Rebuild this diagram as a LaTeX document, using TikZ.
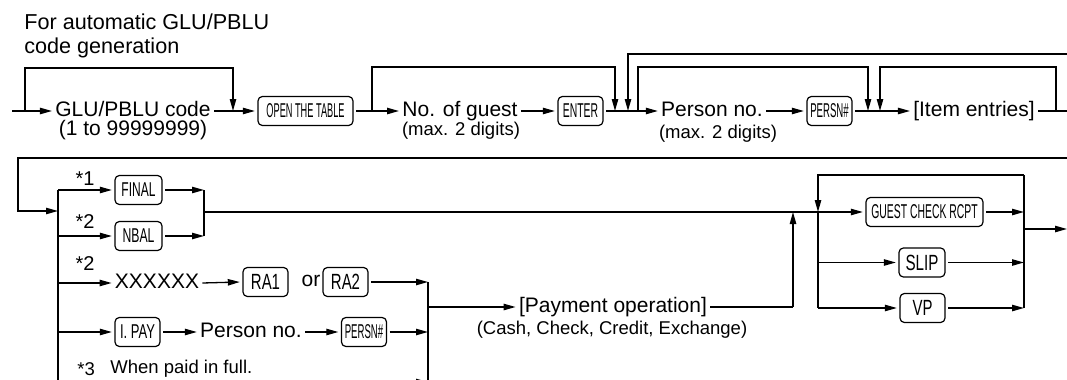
\documentclass[tikz,border=0pt]{standalone}
\usepackage{fontspec}
\setmainfont{Liberation Sans}
\usepackage{graphicx}
\usetikzlibrary{arrows.meta}
\newcommand\kt[2]{\scalebox{#1}[1]{#2}}
\tikzset{
  ln/.style={line width=0.65pt},
  arr/.style={line width=0.65pt, -{Triangle[length=6pt,width=3.2pt]}},
  keybox/.style={draw, line width=0.6pt, rounded corners=2.2pt, minimum height=14.5pt, inner sep=0pt, outer sep=1.6pt, font=\fontsize{10}{10}\selectfont},
  keyb/.style={keybox, font=\fontsize{11}{11}\selectfont},
  txt/.style={inner sep=1.5pt, font=\fontsize{10.5}{12}\selectfont, text height=7.5pt, text depth=2pt},
  head/.style={inner sep=0pt, font=\fontsize{10.8}{12}\selectfont, text height=7.5pt, text depth=2pt},
  sub/.style={inner sep=0pt, font=\fontsize{9.25}{11}\selectfont},
  star/.style={inner sep=0pt, font=\fontsize{10}{11}\selectfont},
}
\begin{document}
\begin{tikzpicture}[x=0.5pt,y=-0.5pt]
\useasboundingbox (0,0) rectangle (1067,380);
\clip (0,0) rectangle (1067,380);

% ---------- top row ----------
\node[head, anchor=west] (h1) at (24,24) {For automatic GLU/PBLU};
\node[head, anchor=west] (h2) at (24,48) {code generation};

\node[txt] (glu) at (133,111) {GLU/PBLU code};
\node[txt, inner sep=0pt] (glusub) at (133,130) {(1 to 99999999)};
\node[keybox, minimum width=47.5pt] (otb) at (305.5,111) {\kt{0.46}{OPEN THE TABLE}};
\node[txt] (guest) at (460,111) {No. of guest};
\node[sub] (guestsub) at (461,131) {(max. 2 digits)};
\node[keybox, minimum width=22.5pt] (enter) at (580.5,111) {\kt{0.52}{ENTER}};
\node[txt] (person) at (712,111) {Person no.};
\node[sub] (personsub) at (718,134) {(max. 2 digits)};
\node[keybox, minimum width=22.5pt] (persn) at (829.5,111) {\kt{0.48}{PERSN\#}};
\node[txt] (items) at (974,111) {[Item entries]};

\coordinate (s0) at (12,111);
\coordinate (j1) at (25,111);
\coordinate (c1) at (233,68);
\coordinate (d1) at (233,111);
\draw[arr] (s0) -- (glu.west);
\draw[arr] (j1) |- (c1) -- (d1);
\draw[arr] (glu.east) -- (otb.west);

\coordinate (j2) at (372,111);
\coordinate (c2) at (615,67);
\coordinate (d2) at (615,111);
\draw[arr] (j2) |- (c2) -- (d2);
\draw[arr] (otb.east) -- (guest.west);
\draw[arr] (guest.east) -- (enter.west);
\draw[arr] (enter.east) -- (person.west);

\coordinate (e3) at (1067,54);
\coordinate (c3) at (628,54);
\coordinate (d3) at (628,111);
\draw[arr] (e3) -- (c3) -- (d3);

\coordinate (j4) at (638,111);
\coordinate (c4) at (868,67);
\coordinate (d4) at (868,111);
\draw[arr] (j4) |- (c4) -- (d4);
\draw[arr] (person.east) -- (persn.west);
\draw[arr] (persn.east) -- (items.west);

\coordinate (e5) at (1067,111);
\draw[ln] (items.east) -- (e5);
\coordinate (j5) at (1056,111);
\coordinate (c5) at (880,67);
\coordinate (d5) at (880,111);
\draw[arr] (j5) |- (c5) -- (d5);

% ---------- second row ----------
\coordinate (e6) at (1067,158);
\coordinate (c6) at (18,158);
\coordinate (c6b) at (18,211);
\coordinate (b1) at (58,211);
\draw[arr] (e6) -- (c6) -- (c6b) -- (b1);

\coordinate (bt) at (58,190);
\coordinate (bb) at (58,390);
\draw[ln] (bt) -- (bb);

\node[keybox, minimum width=23.5pt] (final) at (138.5,190) {\kt{0.6}{FINAL}};
\node[keybox, minimum width=23.5pt] (nbal) at (138.5,236) {\kt{0.61}{NBAL}};
\node[star] (s1) at (85,179) {*1};
\node[star] (s2) at (85,222) {*2};
\node[star] (s3) at (85,264) {*2};

\coordinate (bn) at (58,236);
\draw[arr] (bt) -- (final.west);
\draw[arr] (bn) -- (nbal.west);
\coordinate (mf) at (204,190);
\coordinate (mn) at (204,236);
\draw[arr] (final.east) -- (mf);
\draw[arr] (nbal.east) -- (mn);
\draw[ln] (mf) -- (mn);

\node[keybox, minimum width=58.5pt] (gcr) at (924.5,212) {\kt{0.52}{GUEST CHECK RCPT}};
\coordinate (m0) at (204,212);
\draw[arr] (m0) -- (gcr.west);

% XXXXXX row
\node[txt] (xx) at (157,283) {XXXXXX};
\node[keyb, minimum width=22.5pt] (ra1) at (265.5,282) {\kt{0.68}{RA1}};
\node[txt, inner sep=0pt] (or) at (311,281) {or};
\node[keyb, minimum width=22.5pt] (ra2) at (345.5,282) {\kt{0.68}{RA2}};
\coordinate (bx) at (58,283);
\draw[arr] (bx) -- (xx.west);
\draw[arr] (xx.east) -- (ra1.west);
\coordinate (r1) at (428,282);
\draw[arr] (ra2.east) -- (r1);

% I.PAY row
\node[keybox, minimum width=22.5pt] (ipay) at (137.5,332) {\kt{0.65}{I. PAY}};
\node[txt] (pno) at (251,332) {Person no.};
\node[keybox, minimum width=22.5pt] (persn2) at (364,332) {\kt{0.48}{PERSN\#}};
\coordinate (bi) at (58,332);
\draw[arr] (bi) -- (ipay.west);
\draw[arr] (ipay.east) -- (pno.west);
\draw[arr] (pno.east) -- (persn2.west);
\coordinate (r2) at (428,332);
\draw[arr] (persn2.east) -- (r2);

\node[sub, anchor=west] (n3) at (77,369) {*3};
\node[sub, anchor=west] (n3t) at (110,369) {When paid in full.};
\coordinate (r3s) at (395,382);
\coordinate (r3) at (428,382);
\draw[arr] (r3s) -- (r3);

\coordinate (rb) at (428,390);
\draw[ln] (r1) -- (rb);

% payment
\node[txt] (pay) at (613,307) {[Payment operation]};
\node[sub] (paysub) at (612,330) {(Cash, Check, Credit, Exchange)};
\coordinate (rp) at (428,307);
\draw[arr] (rp) -- (pay.west);
\coordinate (pu) at (793,307);
\coordinate (pt) at (793,212);
\draw[ln] (pay.east) -- (pu);
\draw[arr] (pu) -- (pt);

% receipt group
\node[keyb, minimum width=23pt] (slip) at (922,262.5) {\kt{0.69}{SLIP}};
\node[keyb, minimum width=22.5pt] (vp) at (922.5,308) {\kt{0.68}{VP}};
\coordinate (gr) at (1024,175);
\coordinate (gl) at (818,175);
\coordinate (gd) at (818,212);
\draw[arr] (gr) -- (gl) -- (gd);
\coordinate (gb) at (818,308);
\draw[ln] (gd) -- (gb);
\coordinate (gs) at (818,262.5);
\draw[arr] (gs) -- (slip.west);
\draw[arr] (gb) -- (vp.west);
\coordinate (q1) at (1024,212);
\coordinate (q2) at (1024,262.5);
\coordinate (q3) at (1024,308);
\draw[arr] (gcr.east) -- (q1);
\draw[arr] (slip.east) -- (q2);
\draw[arr] (vp.east) -- (q3);
\draw[ln] (gr) -- (q3);
\coordinate (qo) at (1024,229);
\coordinate (qe) at (1067,229);
\draw[arr] (qo) -- (qe);
\end{tikzpicture}
\end{document}
